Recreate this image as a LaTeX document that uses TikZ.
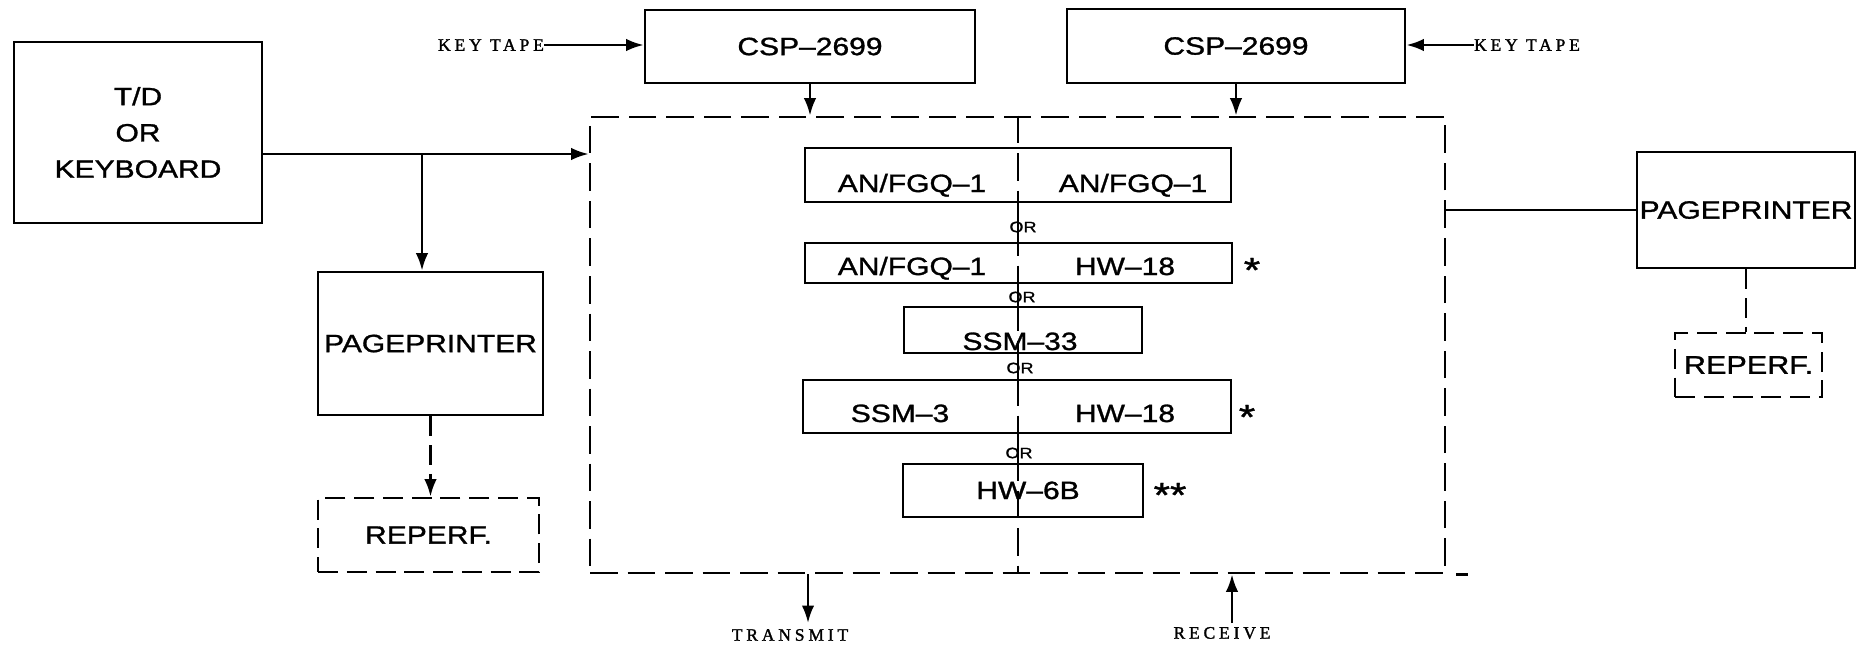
\documentclass[tikz,border=0pt]{standalone}
\usepackage{fontspec}
\setmainfont{Liberation Sans}[FakeStretch=1.2, FakeBold=1.2]
\newfontfamily\labfont{Liberation Serif}[LetterSpace=22, FakeBold=1.5]
\usetikzlibrary{arrows.meta}
\begin{document}
\begin{tikzpicture}[x=0.4pt,y=-0.4pt,
  box/.style={draw, line width=1.1pt, inner sep=0pt, font=\fontsize{10}{12}\selectfont},
  dbox/.style={box, dash pattern=on 8pt off 3.5pt},
  lbl/.style={inner sep=0pt, text height=7.2pt, text depth=0pt, font=\fontsize{10}{12}\selectfont},
  tag/.style={inner sep=0pt, font=\labfont\fontsize{7}{8}\selectfont},
  ortag/.style={inner sep=0pt, font=\fontsize{6}{6}\selectfont},
  startag/.style={inner sep=0pt, font=\fontsize{14}{14}\selectfont},
  conn/.style={line width=1pt},
  arr/.style={conn, -{Latex[length=7pt,width=5pt]}},
  dline/.style={dash pattern=on 8pt off 3.5pt},
  encl/.style={line width=1.1pt, dash pattern=on 11pt off 4pt},
]
\useasboundingbox (0,0) rectangle (1857,646);

% left side
\node[box, minimum width=99.2pt, minimum height=72.4pt, align=center,
      font=\fontsize{10}{14.5}\selectfont] (td) at (138,132.5) {T/D\\OR\\KEYBOARD};
\node[box, minimum width=90pt, minimum height=57.2pt] (pp1) at (430.5,343.5) {PAGEPRINTER};
\node[dbox, minimum width=88.4pt, minimum height=29.6pt] (rp1) at (428.5,535) {REPERF.};

% crypto units
\node[box, minimum width=132pt, minimum height=29.2pt] (csp1) at (810,46.5) {CSP–2699};
\node[box, minimum width=135.2pt, minimum height=29.6pt] (csp2) at (1236,46) {CSP–2699};
\node[tag] (kt1) at (491,45) {KEY TAPE};
\node[tag] (kt2) at (1527,45) {KEY TAPE};

% enclosure
\node[encl, draw, inner sep=0pt, minimum width=342pt, minimum height=182.4pt] (enc) at (1017.5,345) {};
\coordinate (dv) at (1018,0);
\draw[encl] (dv |- enc.north) -- (dv |- enc.south);
\draw[line width=1.1pt] ([xshift=4pt]enc.south east) -- ++(12,0);

% inner boxes
\node[box, minimum width=170.4pt, minimum height=21.6pt] (b1) at (1018,175) {};
\node[box, minimum width=170.8pt, minimum height=16pt] (b2) at (1018.5,263) {};
\node[box, minimum width=95.2pt, minimum height=18.4pt] (b3) at (1023,330) {};
\node[box, minimum width=171.2pt, minimum height=21.2pt] (b4) at (1017,406.5) {};
\node[box, minimum width=96pt, minimum height=21.2pt] (b5) at (1023,490.5) {};

\node[lbl] (t1a) at (912,183) {AN/FGQ–1};
\node[lbl] (t1b) at (1133,183) {AN/FGQ–1};
\node[lbl] (t2a) at (912,266) {AN/FGQ–1};
\node[lbl] (t2b) at (1125,266) {HW–18};
\node[lbl] (t3) at (1020,341) {SSM–33};
\node[lbl] (t4a) at (900,413) {SSM–3};
\node[lbl] (t4b) at (1125,413) {HW–18};
\node[lbl] (t5) at (1028,490) {HW–6B};

\node[ortag] (or1) at (1023,227) {OR};
\node[ortag] (or2) at (1022,297) {OR};
\node[ortag] (or3) at (1020,368) {OR};
\node[ortag] (or4) at (1019,453) {OR};

\node[startag] (s1) at (1252,270) {*};
\node[startag] (s2) at (1247,417) {*};
\node[startag] (s3) at (1170,495) {**};

% right side
\node[box, minimum width=87.2pt, minimum height=46.4pt] (pp2) at (1746,210) {PAGEPRINTER};
\node[dbox, minimum width=58.8pt, minimum height=25.6pt, font=\fontsize{10.2}{12}\selectfont] (rp2) at (1748.5,365) {REPERF.};

% transmit / receive
\node[tag] (tx) at (790,635) {TRANSMIT};
\node[tag] (rx) at (1222,633) {RECEIVE};
\coordinate (txe) at (808,623);
\coordinate (rxs) at (1232,623);

% connectors
\coordinate (j1) at (422,154);
\draw[arr] (td.east |- j1) -- (enc.west |- j1);
\draw[arr] (j1) -- (j1 |- pp1.north);
\draw[arr, dline] (pp1.south) -- (pp1.south |- rp1.north);
\draw[arr] (kt1.east) -- (csp1.west |- kt1.east);
\draw[arr] (kt2.west) -- (csp2.east |- kt2.west);
\draw[arr] (csp1.south) -- (csp1.south |- enc.north);
\draw[arr] (csp2.south) -- (csp2.south |- enc.north);
\draw[conn] (enc.east |- pp2.west) -- (pp2.west);
\draw[conn, dline] (pp2.south) -- (pp2.south |- rp2.north);
\draw[arr] (enc.south -| txe) -- (txe);
\draw[arr] (rxs) -- (enc.south -| rxs);
\draw[conn] (dv |- b1.south) -- (dv |- b2.north);
\draw[conn] (dv |- b2.south) -- (dv |- b3.north);
\draw[conn] (dv |- b3.south) -- (dv |- b4.north);
\draw[conn] (dv |- b4.south) -- (dv |- b5.north);
\end{tikzpicture}
\end{document}
